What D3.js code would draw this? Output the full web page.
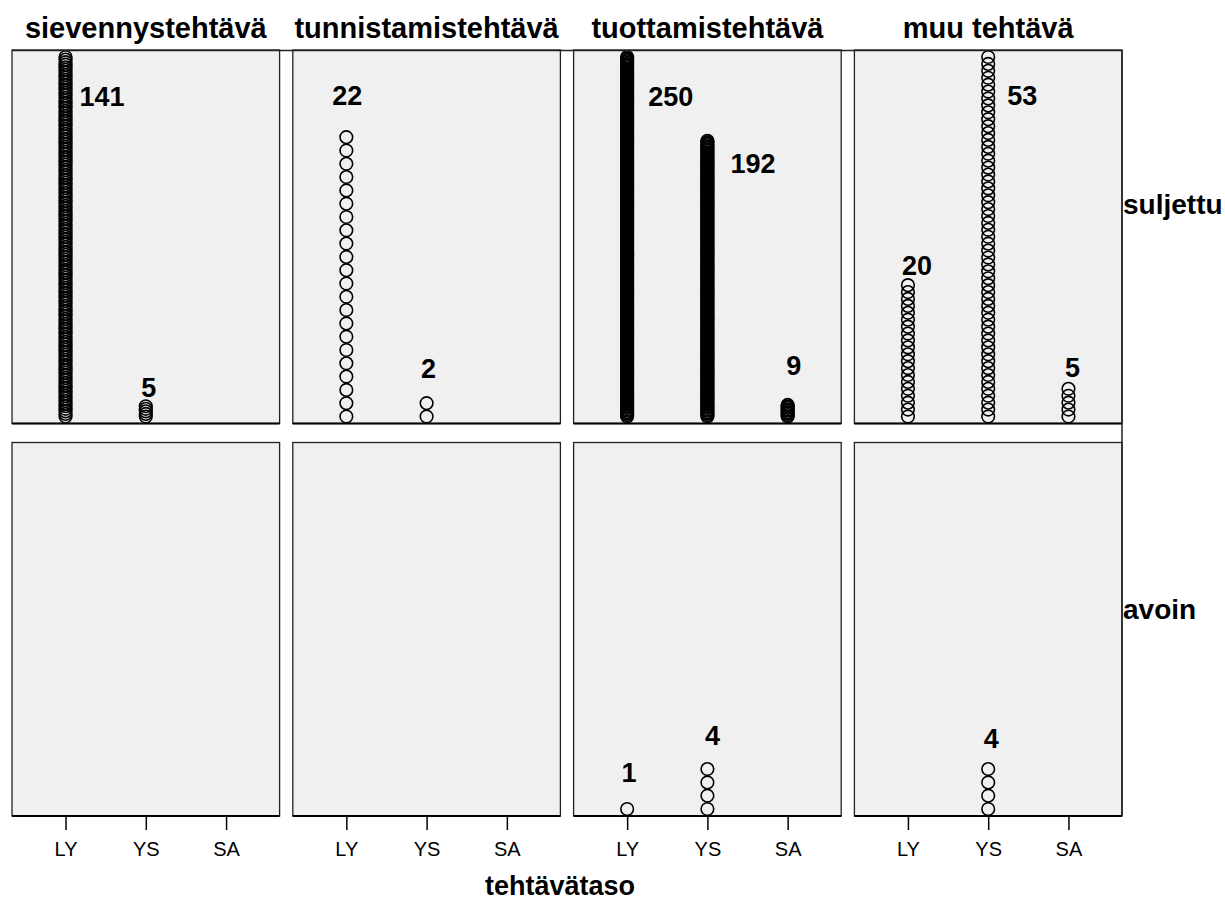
<!DOCTYPE html>
<html>
<head>
<meta charset="utf-8">
<script src="https://cdn.jsdelivr.net/npm/d3@7"></script>
<style>
  body { margin: 0; background: #fff; }
  text { font-family: "Liberation Sans", Arial, sans-serif; fill: #000; }
</style>
</head>
<body>
<div id="chart"></div>
<script>
// task types (columns), answer types (rows), task levels (x)
const columns = ["sievennystehtävä", "tunnistamistehtävä", "tuottamistehtävä", "muu tehtävä"]
const rows = ["suljettu", "avoin"]
const levels = ["LY", "YS", "SA"]

// counts per column, per level
const suljettu = [[141, 5, 0], [22, 2, 0], [250, 192, 9], [20, 53, 5]]
const avoin = [[0, 0, 0], [0, 0, 0], [1, 4, 0], [0, 4, 0]]
const counts = [suljettu, avoin]

// label nudges relative to top circle: [dx, dy, anchor]
const labelNudge = [
  [[14, 49, "start"], [3, -9, "middle"], null],
  [[1, -32, "middle"], [2, -25, "middle"], null],
  [[21, 49, "start"], [23, 32, "start"], [6, -30, "middle"]],
  [[9, -10, "middle"], [19, 48, "start"], [4, -12, "middle"]]
]
const labelNudgeAvoin = [
  [null, null, null], [null, null, null],
  [[2, -27, "middle"], [5, -24, "middle"], null],
  [null, [3, -21, "middle"], null]
]
const nudges = [labelNudge, labelNudgeAvoin]

const width = 1225
const height = 902
const r = 7
const dotStep = 13.3

const svg = d3.select("#chart").append("svg")
  .attr("width", width).attr("height", height)

const col = d3.scaleBand().domain(columns).range([12, 1122]).paddingInner(0.047)
const row = d3.scaleBand().domain(rows).range([50, 816]).paddingInner(0.0484)
const x = d3.scalePoint().domain(levels).range([0, col.bandwidth()]).padding(0.667)

const layer_panels = svg.append("g")
const layer_dots = svg.append("g")
const layer_text = svg.append("g")

// frame lines across top and down the right side
svg.append("line").attr("x1", 12).attr("x2", 1122).attr("y1", 50.5).attr("y2", 50.5)
  .attr("stroke", "#222").attr("stroke-width", 1.5)
svg.append("line").attr("x1", 1122).attr("x2", 1122).attr("y1", 50).attr("y2", 816)
  .attr("stroke", "#222").attr("stroke-width", 1.5)

rows.forEach((rn, ri) => {
  const top = row(rn)
  const bottom = top + row.bandwidth()
  columns.forEach((cn, ci) => {
    const left = col(cn)
    const g = layer_panels.append("g").attr("transform", `translate(${left},0)`)
    g.append("rect")
      .attr("x", 0).attr("y", top)
      .attr("width", col.bandwidth()).attr("height", row.bandwidth())
      .attr("fill", "#f0f0f0").attr("stroke", "#222").attr("stroke-width", 1.3)
    g.append("line")
      .attr("x1", 0).attr("x2", col.bandwidth())
      .attr("y1", bottom).attr("y2", bottom)
      .attr("stroke", "#000").attr("stroke-width", 2)

    const vals = counts[ri][ci]
    const maxN = d3.max(vals)
    const step = maxN > 1 ? Math.min(dotStep, (row.bandwidth() - 2 * r) / (maxN - 1)) : dotStep
    const y = d3.scaleLinear().domain([0, 1]).range([bottom - r, bottom - r - step])

    const dg = layer_dots.append("g").attr("transform", `translate(${left},0)`)
    levels.forEach((lv, li) => {
      const n = vals[li]
      if (!n) return
      dg.append("g").selectAll("circle")
        .data(d3.range(n))
        .join("circle")
        .attr("cx", x(lv))
        .attr("cy", d => y(d))
        .attr("r", r - 0.7)
        .attr("fill", "none")
        .attr("stroke", "#000")
        .attr("stroke-width", 1.6)
      const nd = nudges[ri][ci][li]
      if (nd) {
        layer_text.append("text")
          .attr("x", left + x(lv) + nd[0])
          .attr("y", y(n - 1) + nd[1])
          .attr("text-anchor", nd[2])
          .attr("font-size", 27).attr("font-weight", "bold")
          .text(n)
      }
    })

    // column titles on top
    if (ri === 0) {
      layer_text.append("text")
        .attr("x", left + col.bandwidth() / 2).attr("y", 38)
        .attr("text-anchor", "middle")
        .attr("font-size", 29).attr("font-weight", "bold")
        .text(cn)
    }
    // x axis on the bottom row
    if (ri === rows.length - 1) {
      const ax = g.append("g").attr("transform", `translate(0,${bottom})`)
      ax.call(d3.axisBottom(x).tickSize(14).tickPadding(12))
      ax.select(".domain").remove()
      ax.selectAll(".tick line").attr("stroke", "#000").attr("stroke-width", 1.5)
      ax.selectAll(".tick text")
        .attr("font-size", 20).attr("font-family", "Liberation Sans, Arial, sans-serif")
        .attr("fill", "#000")
    }
  })
  // row label on the right
  layer_text.append("text")
    .attr("x", 1123).attr("y", top + row.bandwidth() * 0.44 + ri * 12)
    .attr("font-size", 28).attr("font-weight", "bold")
    .text(rn)
})

layer_text.append("text")
  .attr("x", 560).attr("y", 895)
  .attr("text-anchor", "middle")
  .attr("font-size", 27).attr("font-weight", "bold")
  .text("tehtävätaso")
</script>
</body>
</html>
